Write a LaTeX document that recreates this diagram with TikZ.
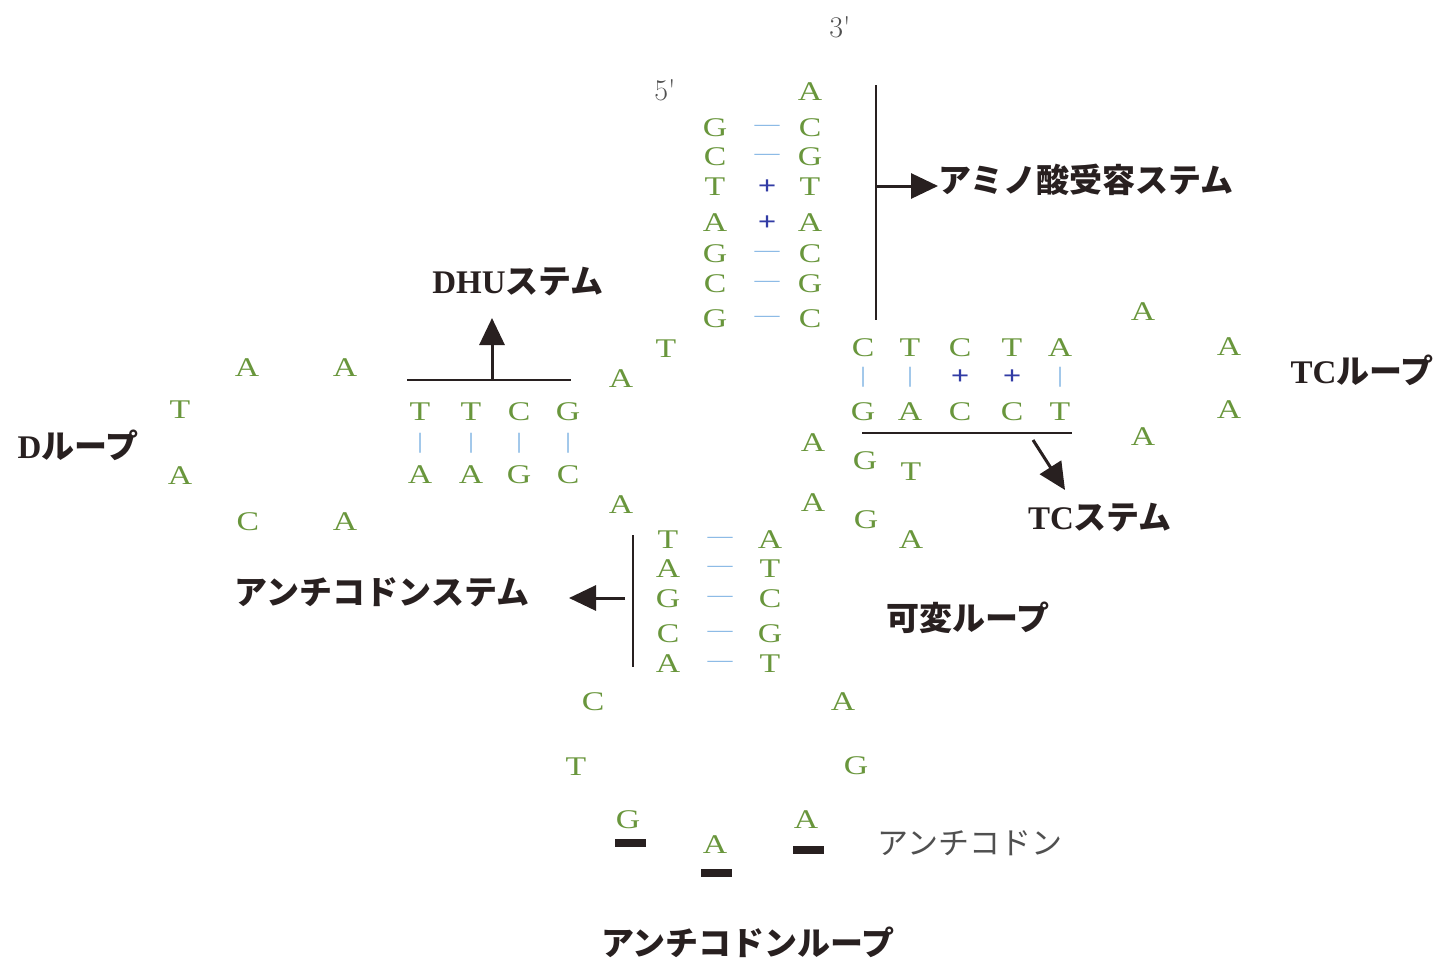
\documentclass[tikz,border=0pt]{standalone}
\usepackage{fontspec}
\setmainfont{Liberation Serif}
\newfontfamily\jp{Noto Sans CJK JP}
\newfontfamily\basef[FakeStretch=1.25]{Liberation Serif}
\newfontfamily\lmr{Latin Modern Roman}
\usetikzlibrary{arrows.meta}
\definecolor{bgreen}{RGB}{105,150,60}
\definecolor{lblue}{RGB}{120,175,225}
\definecolor{dblue}{RGB}{50,60,165}
\definecolor{ink}{RGB}{40,32,32}
\definecolor{graytext}{RGB}{80,80,80}
\begin{document}
\begin{tikzpicture}[x=1pt,y=-1pt,
  base/.style={text=bgreen,font=\basef\fontsize{27}{27}\selectfont,inner sep=0pt},
  weak/.style={text=lblue,font=\basef\fontsize{20}{20}\selectfont,inner sep=0pt},
  strong/.style={text=dblue,font=\basef\bfseries\fontsize{26}{26}\selectfont,inner sep=0pt},
  vbar/.style={text=lblue,font=\basef\fontsize{22}{22}\selectfont,inner sep=0pt},
  lab/.style={text=ink,font=\bfseries\fontsize{33}{33}\selectfont,inner sep=0pt},
  lablight/.style={text=graytext,font=\jp\fontsize{31}{31}\selectfont,inner sep=0pt},
  endlab/.style={text=graytext,font=\lmr\fontsize{30}{30}\selectfont,inner sep=0pt},
  stemline/.style={draw=ink,line width=2.6pt},
  arr/.style={draw=ink,line width=3pt,-{Triangle[length=27pt,width=25pt]}},
  codonbar/.style={fill=ink,minimum width=31pt,minimum height=8pt,inner sep=0pt}
]
\useasboundingbox (0,0) rectangle (1450,972);

% ends
\node[endlab] (e3) at (840,27) {3\textquotesingle};
\node[endlab] (e5) at (665,90) {5\textquotesingle};

% acceptor stem
\node[base] (aA) at (810,92) {A};
\foreach \n/\l/\b/\r/\y in {1/G/w/C/128,2/C/w/G/157,3/T/s/T/187,4/A/s/A/223,5/G/w/C/254,6/C/w/G/284,7/G/w/C/319}{
  \node[base] (al\n) at (715,\y) {\l};
  \node[base] (ar\n) at (810,\y) {\r};
  \if\b w\node[weak] (ab\n) at (767,\y) {—};\else\node[strong] (ab\n) at (767,\y) {+};\fi
}
\coordinate (accTop) at (876,85);
\coordinate (accBot) at (876,320);
\coordinate (accMid) at (876,186);
\draw[stemline] (accTop) -- (accBot);
\node[lab,anchor=west] (accLab) at (938,180) {\jp\bfseries アミノ酸受容ステム};
\draw[arr] (accMid) -- (accLab.west |- accMid);

% connectors T, A
\node[base] (cT) at (666,349) {T};
\node[base] (cA) at (621,379) {A};

% DHU stem
\foreach \n/\t/\b/\x in {1/T/A/420,2/T/A/471,3/C/G/519,4/G/C/568}{
  \node[base] (dt\n) at (\x,412) {\t};
  \node[vbar] (dv\n) at (\x,443) {|};
  \node[base] (db\n) at (\x,475) {\b};
}
\coordinate (dL) at (407,380);
\coordinate (dR) at (571,380);
\coordinate (dM) at (492,380);
\coordinate (dTip) at (492,318);
\draw[stemline] (dL) -- (dR);
\node[lab] (dhuLab) at (518,282) {DHU\jp\bfseries ステム};
\draw[arr] (dM) -- (dTip);

% D loop
\node[base] (dl1) at (247,368) {A};
\node[base] (dl2) at (345,368) {A};
\node[base] (dl3) at (180,410) {T};
\node[base] (dl4) at (180,476) {A};
\node[base] (dl5) at (248,522) {C};
\node[base] (dl6) at (345,522) {A};
\node[lab] (dLab) at (78,445) {D\jp\bfseries ループ};

% connectors
\node[base] (cA2) at (621,505) {A};
\node[base] (cA3) at (813,443) {A};
\node[base] (cA4) at (813,503) {A};

% TC stem
\foreach \n/\t/\k/\b/\x in {1/C/v/G/863,2/T/v/A/910,3/C/s/C/960,4/T/s/C/1012,5/A/v/T/1060}{
  \node[base] (tt\n) at (\x,348) {\t};
  \if\k v\node[vbar] (tv\n) at (\x,377) {|};\else\node[strong] (tv\n) at (\x,377) {+};\fi
  \node[base] (tb\n) at (\x,412) {\b};
}
\coordinate (tL) at (862,433);
\coordinate (tR) at (1072,433);
\coordinate (tM) at (1033,440);
\coordinate (tTip) at (1065,490);
\draw[stemline] (tL) -- (tR);
\node[lab] (tcsLab) at (1100,518) {TC\jp\bfseries ステム};
\draw[arr] (tM) -- (tTip);

% TC loop
\node[base] (tl1) at (1143,312) {A};
\node[base] (tl2) at (1229,347) {A};
\node[base] (tl3) at (1229,410) {A};
\node[base] (tl4) at (1143,437) {A};
\node[lab] (tclLab) at (1362,370) {TC\jp\bfseries ループ};

% variable loop
\node[base] (v1) at (865,461) {G};
\node[base] (v2) at (911,472) {T};
\node[base] (v3) at (866,520) {G};
\node[base] (v4) at (911,540) {A};
\node[lab] (varLab) at (968,618) {\jp\bfseries 可変ループ};

% anticodon stem
\foreach \n/\l/\r/\y in {1/T/A/540,2/A/T/569,3/G/C/599,4/C/G/634,5/A/T/664}{
  \node[base] (kl\n) at (668,\y) {\l};
  \node[weak] (kb\n) at (720,\y) {—};
  \node[base] (kr\n) at (770,\y) {\r};
}
\coordinate (kTop) at (633,535);
\coordinate (kBot) at (633,667);
\coordinate (kMid) at (625,598);
\coordinate (kTip) at (569,598);
\draw[stemline] (kTop) -- (kBot);
\node[lab] (acsLab) at (382,592) {\jp\bfseries アンチコドンステム};
\draw[arr] (kMid) -- (kTip);

% anticodon loop
\node[base] (lC) at (593,702) {C};
\node[base] (lT) at (576,767) {T};
\node[base] (lG) at (628,820) {G};
\node[base] (lA1) at (715,845) {A};
\node[base] (lA2) at (806,820) {A};
\node[base] (lG2) at (856,766) {G};
\node[base] (lA3) at (843,702) {A};
\node[codonbar] (bar1) at (630,843) {};
\node[codonbar] (bar2) at (716,873) {};
\node[codonbar] (bar3) at (808,850) {};
\node[lablight] (acLab) at (970,843) {アンチコドン};
\node[lab] (aclLab) at (748,942) {\jp\bfseries アンチコドンループ};
\end{tikzpicture}
\end{document}
